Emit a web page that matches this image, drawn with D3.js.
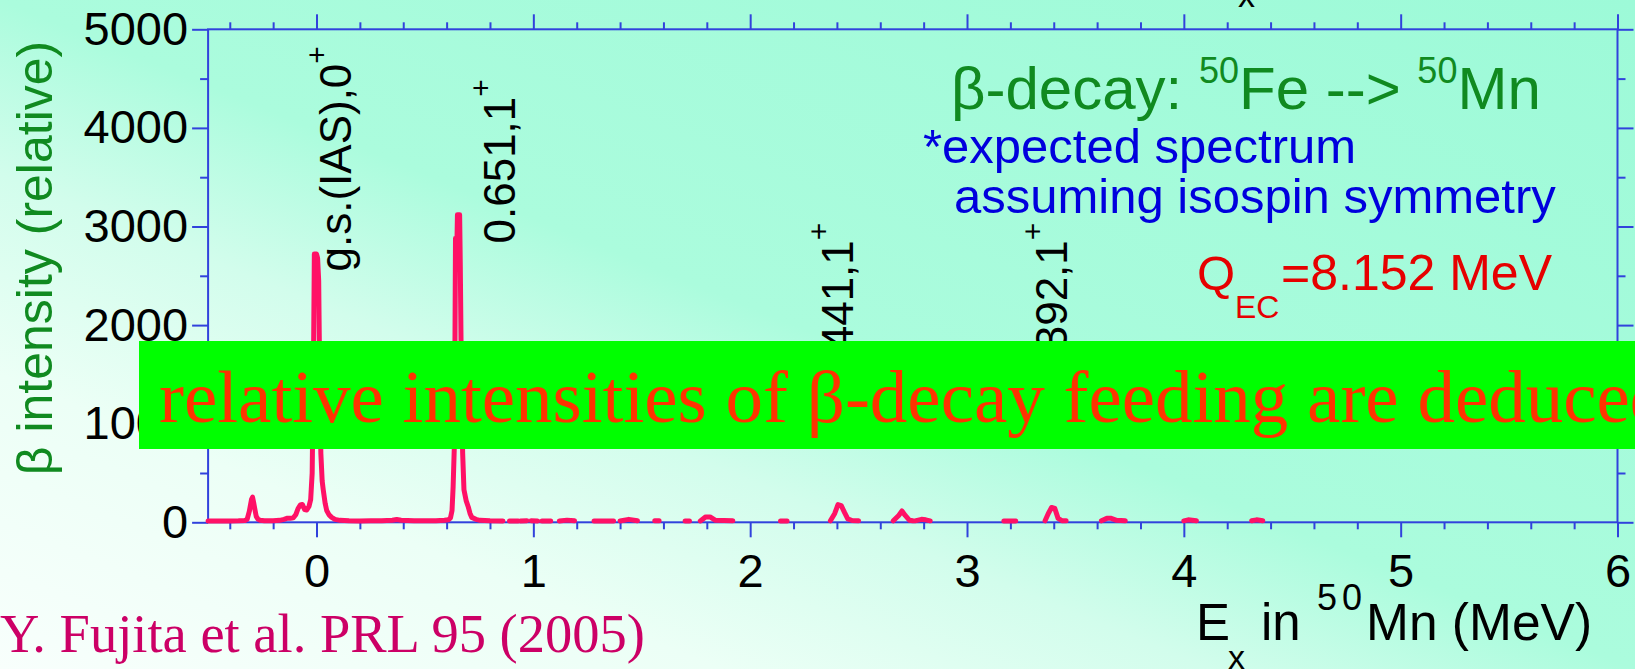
<!DOCTYPE html>
<html>
<head>
<meta charset="utf-8">
<script src="https://cdn.jsdelivr.net/npm/d3@7"></script>
<style>
  html, body { margin: 0; padding: 0; overflow: hidden; background: #fff; }
  svg { display: block; }
</style>
</head>
<body>
<svg id="chart" width="1635" height="669"></svg>
<script>
// Beta-decay feeding spectrum of 50Fe -> 50Mn (null = no counts drawn)
const energyMeV = [
  -0.50, -0.45, -0.40, -0.36, -0.33, -0.32, -0.31, -0.30, -0.295, -0.29, -0.285, -0.278, -0.27, -0.26, -0.24,
  -0.20, -0.17, -0.15, -0.137, -0.12, -0.107, -0.095, -0.085, -0.075, -0.065, -0.055, -0.045, -0.035, -0.027,
  -0.020, -0.014, -0.010, 0.000, 0.005, 0.010, 0.015, 0.020, 0.026, 0.031, 0.040, 0.047, 0.058, 0.070, 0.085,
  0.108, 0.15, 0.20, 0.25, 0.30, 0.35, 0.37, 0.39, 0.45, 0.50, 0.55, 0.59, 0.608, 0.618, 0.625, 0.630, 0.636,
  0.641, 0.648, 0.650, 0.660, 0.663, 0.668, 0.674, 0.680, 0.690, 0.700, 0.708, 0.716, 0.735, 0.754, 0.80, 0.86,
  null, 0.89, 0.93, null, 0.94, 0.97, null, 0.99, 1.02, null, 1.04, 1.08, null, 1.12, 1.155, 1.19,
  null, 1.28, 1.37, null, 1.40, 1.44, 1.48, null, 1.56, 1.58, null, 1.70, 1.72,
  null, 1.77, 1.795, 1.815, 1.84, 1.92, null, 2.14, 2.17,
  null, 2.37, 2.39, 2.405, 2.42, 2.435, 2.45, 2.47, 2.50,
  null, 2.66, 2.685, 2.70, 2.715, 2.735, 2.75, null, 2.76, 2.79, 2.81, 2.83,
  null, 3.17, 3.225, null, 3.36, 3.375, 3.39, 3.405, 3.42, 3.44, 3.457,
  null, 3.62, 3.645, 3.665, 3.69, 3.73, null, 4.00, 4.02, 4.058, null, 4.313, 4.335, 4.364
];
const intensity = [
  12, 12, 14, 15, 18, 30, 110, 230, 255, 200, 140, 60, 30, 20, 15,
  15, 20, 30, 40, 42, 45, 80, 140, 175, 180, 130, 125, 160, 230,
  500, 1600, 2720, 2720, 2680, 2450, 1400, 700, 420, 330, 190, 120, 75, 50, 30,
  20, 15, 14, 15, 16, 20, 28, 20, 16, 15, 15, 20, 25, 45, 120, 360, 800,
  2880, 2880, 3120, 3120, 2620, 1500, 700, 330, 220, 155, 90, 50, 30, 20, 15, 14,
  null, 14, 14, null, 14, 15, null, 15, 14, null, 14, 14, null, 14, 22, 15,
  null, 14, 14, null, 14, 30, 15, null, 15, 15, null, 14, 14,
  null, 14, 55, 55, 20, 15, null, 14, 14,
  null, 15, 90, 180, 170, 100, 35, 18, 15,
  null, 15, 70, 115, 70, 20, 15, null, 15, 30, 25, 15,
  null, 14, 14, null, 15, 90, 150, 140, 40, 15, 15,
  null, 15, 40, 40, 20, 15, null, 15, 25, 15, null, 15, 25, 15
];

const xTickValues = [0, 1, 2, 3, 4, 5, 6];
const yTickValues = [0, 1000, 2000, 3000, 4000, 5000];

const levelNames = ["g.s.(IAS),0", "0.651,1", "2.441,1", "3.392,1"];
const levelEnergy = [0, 0.651, 2.441, 3.392];

// ---------------------------------------------------------------
const W = 1635, H = 669;
const sans = "'Liberation Sans', Arial, Helvetica, sans-serif";
const serif = "'Liberation Serif', 'Times New Roman', serif";
const axisColor = "#3142dc";

const svg = d3.select("#chart");

// slide background: white in the lower left fading to mint green
const grad = svg.append("defs").append("linearGradient")
  .attr("id", "bg").attr("x1", 0).attr("y1", 1).attr("x2", 1).attr("y2", 0);
[[0, "#f8fffc"], [0.22, "#ecfff6"], [0.37, "#d2fdec"], [0.5, "#abfcdd"], [1, "#9dfad8"]]
  .forEach(([o, c]) => grad.append("stop").attr("offset", o).attr("stop-color", c));
svg.append("rect").attr("width", W).attr("height", H).attr("fill", "url(#bg)");

const x = d3.scaleLinear().domain([-0.5, 6]).range([208.1, 1617.5]);
const y = d3.scaleLinear().domain([0, 5000]).range([522.3, 29.3]);

const xMinor = d3.range(-0.4, 6, 0.2).filter(v => Math.abs(v - Math.round(v)) > 1e-6);
const yMinor = d3.range(500, 5000, 1000);

function styleAxis(g) {
  g.select(".domain").remove();
  g.selectAll("line").attr("stroke", axisColor).attr("stroke-width", 2);
  g.selectAll("text").attr("fill", "#000").attr("font-family", sans).attr("font-size", 47);
}

const plot = svg.append("g");

// frame
plot.append("rect")
  .attr("x", x(-0.5)).attr("y", y(5000))
  .attr("width", x(6) - x(-0.5)).attr("height", y(0) - y(5000))
  .attr("fill", "none").attr("stroke", axisColor).attr("stroke-width", 2);

// bottom axis
plot.append("g").attr("transform", `translate(0,${y(0)})`)
  .call(d3.axisBottom(x).tickValues(xTickValues).tickSize(15).tickPadding(16).tickFormat(d3.format("d")))
  .call(styleAxis);
plot.append("g").attr("transform", `translate(0,${y(0)})`)
  .call(d3.axisBottom(x).tickValues(xMinor).tickSize(7).tickFormat(""))
  .call(styleAxis);
// top axis
plot.append("g").attr("transform", `translate(0,${y(5000)})`)
  .call(d3.axisTop(x).tickValues(xTickValues).tickSize(15).tickFormat(""))
  .call(styleAxis);
plot.append("g").attr("transform", `translate(0,${y(5000)})`)
  .call(d3.axisTop(x).tickValues(xMinor).tickSize(7).tickFormat(""))
  .call(styleAxis);
// left axis
plot.append("g").attr("transform", `translate(${x(-0.5)},0)`)
  .call(d3.axisLeft(y).tickValues(yTickValues).tickSize(16).tickPadding(4).tickFormat(d3.format("d")))
  .call(styleAxis);
plot.append("g").attr("transform", `translate(${x(-0.5)},0)`)
  .call(d3.axisLeft(y).tickValues(yMinor).tickSize(8).tickFormat(""))
  .call(styleAxis);
// right axis
plot.append("g").attr("transform", `translate(${x(6)},0)`)
  .call(d3.axisRight(y).tickValues(yTickValues).tickSize(16).tickFormat(""))
  .call(styleAxis);
plot.append("g").attr("transform", `translate(${x(6)},0)`)
  .call(d3.axisRight(y).tickValues(yMinor).tickSize(8).tickFormat(""))
  .call(styleAxis);

// spectrum
const points = energyMeV.map((e, i) => [e, intensity[i]]);
const line = d3.line()
  .defined(d => d[0] != null && d[1] != null)
  .x(d => x(d[0]))
  .y(d => y(d[1]));
plot.append("path")
  .datum(points)
  .attr("d", line)
  .attr("fill", "none")
  .attr("stroke", "#ff1166")
  .attr("stroke-width", 5)
  .attr("stroke-linejoin", "round")
  .attr("stroke-linecap", "round");

// level labels (rotated, reading upward, right of their peaks)
const labelShift = [34.5, 57.3, 7.2, 15];
const labelStart = [271.5, 243.5, 387, 387];
levelNames.forEach((name, i) => {
  const t = svg.append("text")
    .attr("transform", `translate(${x(levelEnergy[i]) + labelShift[i]},${labelStart[i]}) rotate(-90)`)
    .attr("font-family", sans).attr("font-size", 44).attr("fill", "#000");
  t.append("tspan").text(name);
  t.append("tspan").attr("font-size", 30).attr("dy", -24).text("+");
});

// y-axis title
svg.append("text")
  .attr("transform", "translate(52,258) rotate(-90)")
  .attr("text-anchor", "middle")
  .attr("font-family", sans).attr("font-size", 50).attr("fill", "#108a20")
  .text("β intensity (relative)");

// x-axis title
const xt = svg.append("g").attr("font-family", sans).attr("fill", "#000");
xt.append("text").attr("x", 1196).attr("y", 640).attr("font-size", 51).text("E");
xt.append("text").attr("x", 1228).attr("y", 669).attr("font-size", 34).text("x");
xt.append("text").attr("x", 1261).attr("y", 640).attr("font-size", 51).text("in");
xt.append("text").attr("x", 1317).attr("y", 610).attr("font-size", 36).attr("letter-spacing", 5).text("50");
xt.append("text").attr("x", 1366).attr("y", 640).attr("font-size", 51.5).text("Mn (MeV)");
// subscript of the line above, cut by the top edge
xt.append("text").attr("x", 1238).attr("y", 7).attr("font-size", 34).text("x");

// reaction title
const title = svg.append("text").attr("x", 951).attr("y", 109)
  .attr("font-family", sans).attr("font-size", 60).attr("fill", "#108a20");
title.append("tspan").text("β-decay: ");
title.append("tspan").attr("font-size", 36).attr("dy", -26).text("50");
title.append("tspan").attr("dy", 26).text("Fe --> ");
title.append("tspan").attr("font-size", 36).attr("dy", -26).text("50");
title.append("tspan").attr("dy", 26).text("Mn");

// note
svg.append("text").attr("x", 923).attr("y", 163)
  .attr("font-family", sans).attr("font-size", 49).attr("fill", "#0000dd")
  .text("*expected spectrum");
svg.append("text").attr("x", 954).attr("y", 213)
  .attr("font-family", sans).attr("font-size", 49).attr("fill", "#0000dd")
  .text("assuming isospin symmetry");

// Q value
const q = svg.append("g").attr("font-family", sans).attr("fill", "#e60000");
q.append("text").attr("x", 1197).attr("y", 290).attr("font-size", 49).text("Q");
q.append("text").attr("x", 1235).attr("y", 318).attr("font-size", 32).text("EC");
q.append("text").attr("x", 1281).attr("y", 290).attr("font-size", 50).text("=8.152 MeV");

// reference
svg.append("text").attr("x", 0).attr("y", 652)
  .attr("font-family", serif).attr("font-size", 54.5).attr("fill", "#cc0066")
  .text("Y. Fujita et al. PRL 95 (2005)");

// banner
svg.append("rect").attr("x", 139).attr("y", 341).attr("width", 1520).attr("height", 108)
  .attr("fill", "#00ff00");
svg.append("text").attr("x", 159).attr("y", 422)
  .attr("font-family", serif).attr("font-size", 75).attr("fill", "#ff3300")
  .text("relative intensities of β-decay feeding are deduced");
</script>
</body>
</html>
